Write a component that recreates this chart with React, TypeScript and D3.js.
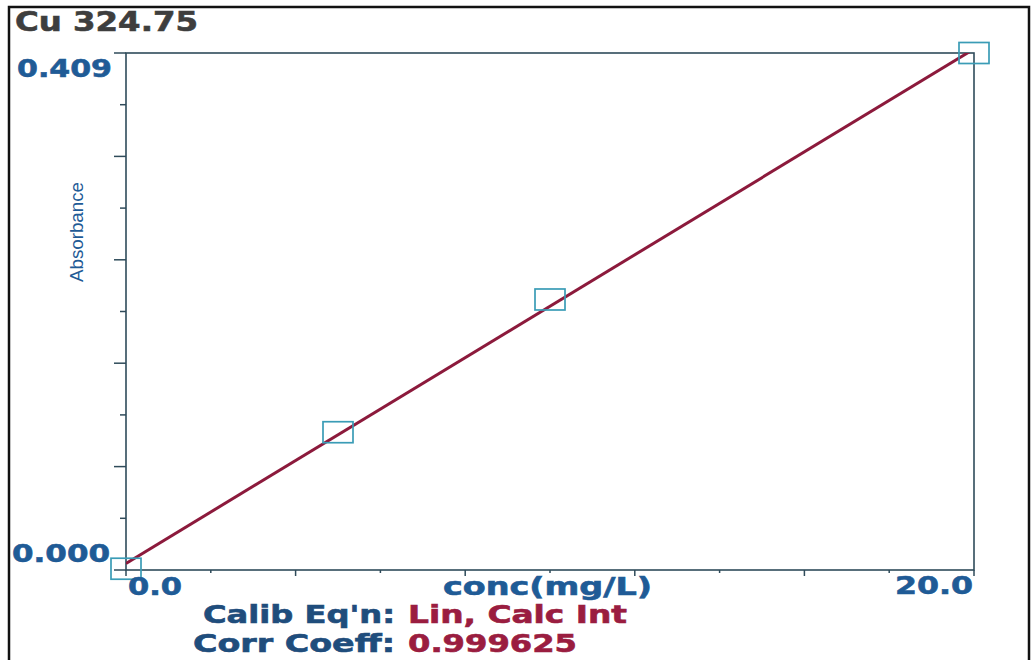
import React from "react";
import * as d3 from "d3";

const title = "Cu 324.75";
const conc = [0, 5, 10, 20];
const absorbance = [0.001, 0.109, 0.214, 0.409];
const xDomain = [0, 20];
const yDomain = [0, 0.409];
const xTickLabels = ["0.0", "20.0"];
const yTickLabels = ["0.000", "0.409"];
const xTitle = "conc(mg/L)";
const yTitle = "Absorbance";
const infoLabels = ["Calib Eq'n:", "Corr Coeff:"];
const infoValues = ["Lin, Calc Int", "0.999625"];

const W = 1032, H = 660;
const L = 126, R = 974, T = 53, B = 570;
const AXIS = "#2f4b5a";
const BLUE = "#1f5b96";
const NAVY = "#1f4d7c";
const RED = "#9a1d40";
const LINE = "#8c1a3c";
const SQ = "#3a9cb6";
const FONT = "'DejaVu Sans', Verdana, sans-serif";

function T2(props: { x: number; y: number; len: number; size: number; fill: string; children: string }) {
  return (
    <text x={props.x} y={props.y} fontFamily={FONT} fontWeight="bold" fontSize={props.size} fill={props.fill}
      stroke={props.fill} strokeWidth={0.6} textLength={props.len} lengthAdjust="spacingAndGlyphs">
      {props.children}
    </text>
  );
}

export default function App() {
  const x = d3.scaleLinear().domain(xDomain).range([L, R]);
  const y = d3.scaleLinear().domain(yDomain).range([B, T]);

  // least squares fit (calculated intercept)
  const mx = d3.mean(conc)!;
  const my = d3.mean(absorbance)!;
  const sxy = d3.sum(conc.map((c, i) => (c - mx) * (absorbance[i] - my)));
  const sxx = d3.sum(conc.map((c) => (c - mx) ** 2));
  const slope = sxy / sxx;
  const icpt = my - slope * mx;
  const fit = d3.line<number>().x((c) => x(c)).y((c) => y(icpt + slope * c));

  const nDiv = 10;
  const xTicks = d3.range(nDiv + 1).map((i) => xDomain[0] + ((xDomain[1] - xDomain[0]) * i) / nDiv);
  const yTicks = d3.range(nDiv + 1).map((i) => yDomain[0] + ((yDomain[1] - yDomain[0]) * i) / nDiv);

  const sqW = 30, sqH = 21;

  return (
    <svg width={W} height={H} style={{ position: "fixed", left: 0, top: 0, background: "#fff" }}>
      <rect x={0} y={0} width={W} height={H} fill="#fff" />
      {/* outer frame */}
      <path d={`M9,${H + 2} V7 H1029 V${H + 2}`} fill="none" stroke="#111" strokeWidth={2.5} />

      <T2 x={15} y={31} len={183} size={26} fill="#3e3e3e">{title}</T2>

      <defs>
        <clipPath id="plotclip">
          <rect x={L} y={T} width={R - L} height={B - T} />
        </clipPath>
      </defs>

      {/* frame */}
      <rect x={L} y={T} width={R - L} height={B - T} fill="#fff" stroke={AXIS} strokeWidth={1.6} />

      {/* y ticks */}
      {yTicks.map((v, i) => (
        <line key={"yt" + i} x1={L - (i % 2 === 0 ? 12 : 6)} x2={L} y1={y(v)} y2={y(v)} stroke={AXIS} strokeWidth={1.5} />
      ))}
      {/* x ticks */}
      {xTicks.map((v, i) => (
        <line key={"xt" + i} x1={x(v)} x2={x(v)} y1={B} y2={B + (i % 2 === 0 ? 6 : 3)} stroke={AXIS} strokeWidth={1.5} />
      ))}

      {/* fit line */}
      <path d={fit(xDomain) || ""} fill="none" stroke={LINE} strokeWidth={3} clipPath="url(#plotclip)" />

      {/* standards */}
      {conc.map((c, i) => (
        <rect key={"p" + i} x={x(c) - sqW / 2} y={y(absorbance[i]) - sqH / 2} width={sqW} height={sqH}
          fill="none" stroke={SQ} strokeWidth={1.7} />
      ))}

      {/* y labels */}
      <T2 x={17} y={77} len={95} size={25} fill={BLUE}>{yTickLabels[1]}</T2>
      <T2 x={12} y={562} len={98} size={24} fill={BLUE}>{yTickLabels[0]}</T2>

      <text transform={`translate(83,232) scale(1.3,1) rotate(-90)`} textAnchor="middle"
        fontFamily="'Liberation Sans', Arial, sans-serif" fontSize={14} fill={BLUE}
        textLength={100} lengthAdjust="spacingAndGlyphs">{yTitle}</text>

      {/* x labels */}
      <T2 x={128} y={595} len={54} size={24} fill={BLUE}>{xTickLabels[0]}</T2>
      <T2 x={895} y={594} len={78} size={24} fill={BLUE}>{xTickLabels[1]}</T2>
      <T2 x={443} y={595} len={209} size={24} fill={BLUE}>{xTitle}</T2>

      {/* calibration info */}
      <T2 x={203} y={623} len={192} size={24} fill={NAVY}>{infoLabels[0]}</T2>
      <T2 x={408} y={623} len={219} size={24} fill={RED}>{infoValues[0]}</T2>
      <T2 x={193} y={652} len={202} size={24} fill={NAVY}>{infoLabels[1]}</T2>
      <T2 x={408} y={652} len={169} size={24} fill={RED}>{infoValues[1]}</T2>
    </svg>
  );
}
